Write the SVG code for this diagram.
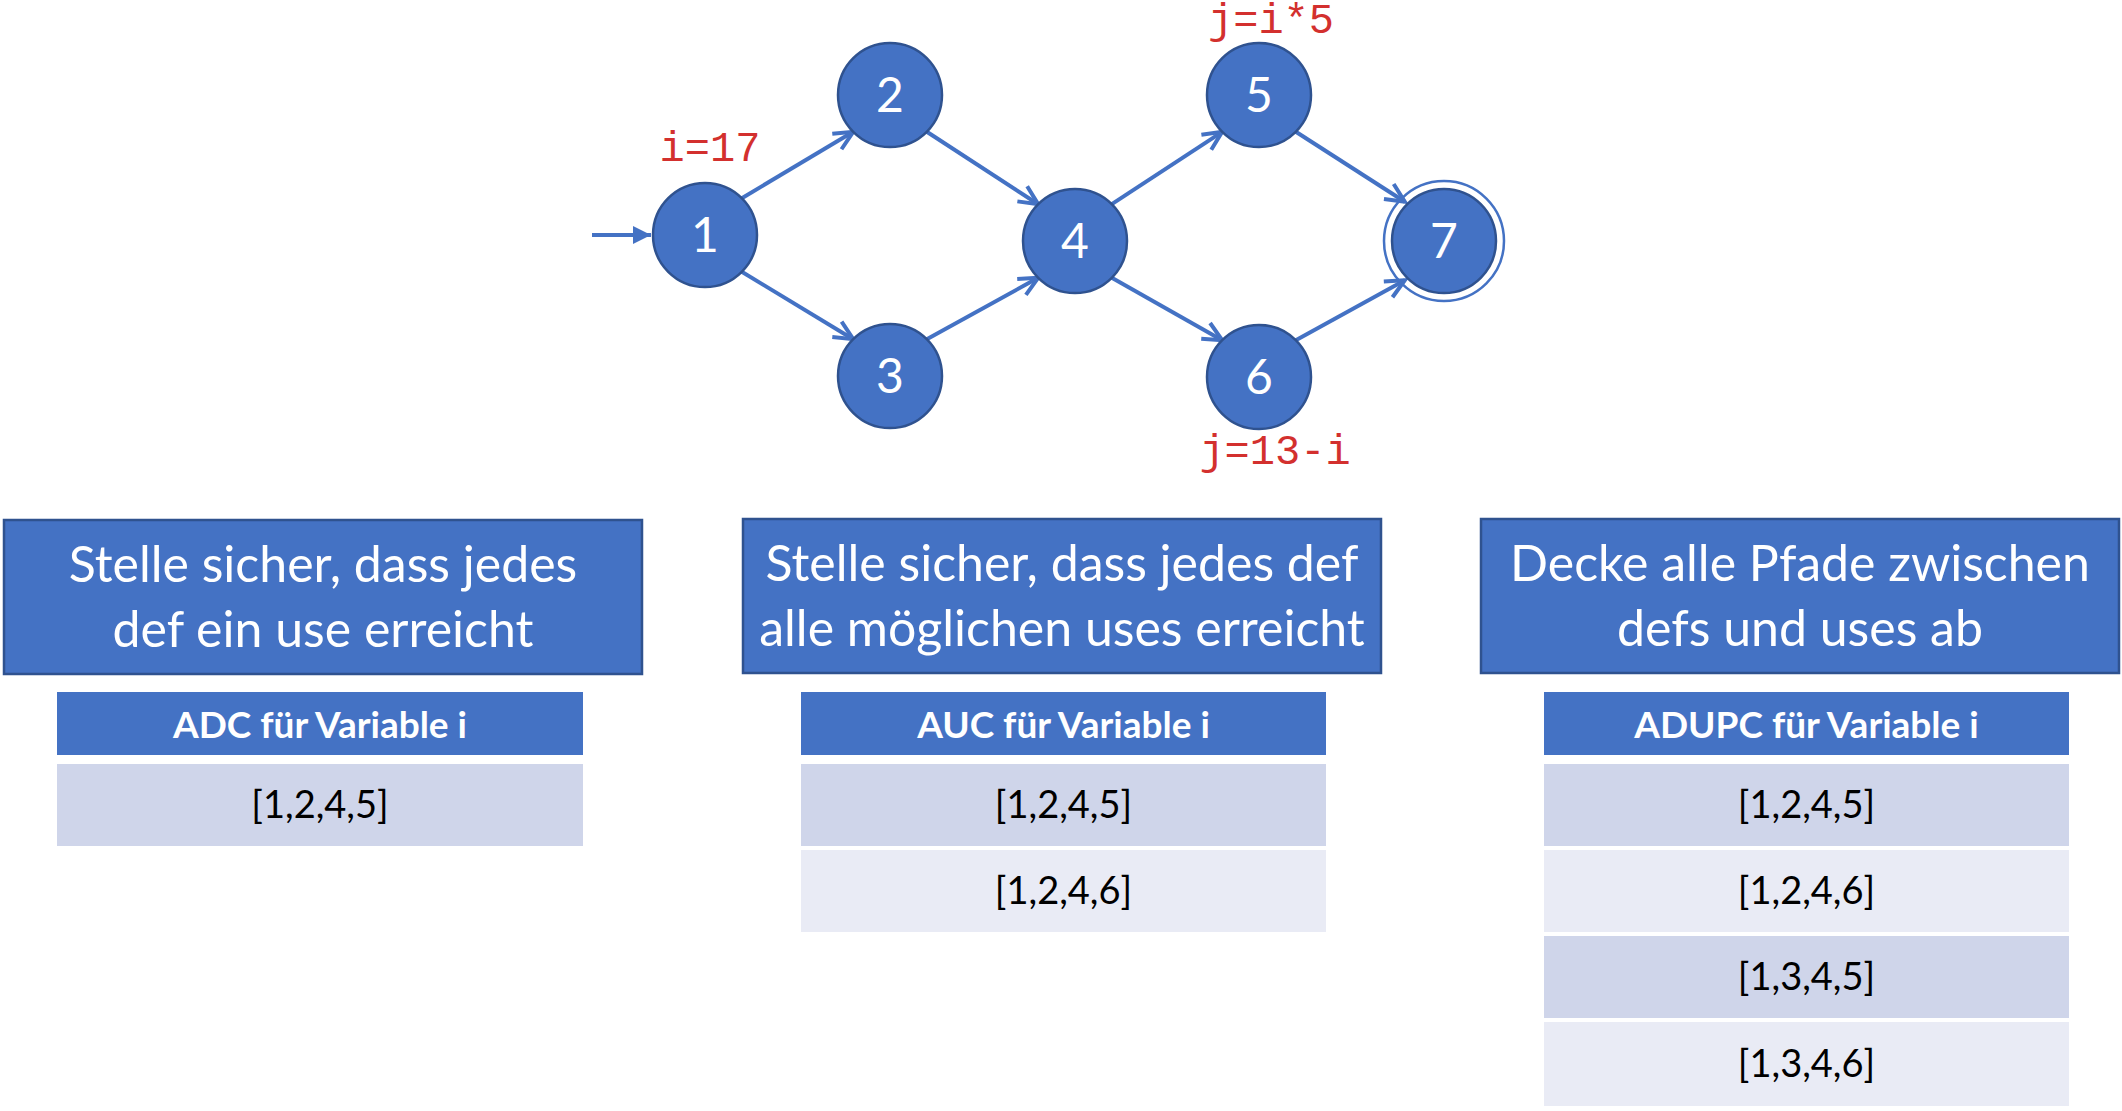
<svg xmlns="http://www.w3.org/2000/svg" width="2122" height="1111" viewBox="0 0 2122 1111">
<style>
.node{fill:#4472C4;stroke:#2F528F;stroke-width:2.5}
.ring{fill:none;stroke:#4472C4;stroke-width:2.5}
.nlab{font-family:Lato,"Open Sans",sans-serif;font-size:48px;fill:#fff;text-anchor:middle}
.code{font-family:"Liberation Mono","Courier New",monospace;font-size:42px;fill:#D3302E;text-anchor:middle}
.edge{stroke:#4472C4;stroke-width:4;fill:none}
.box{fill:#4472C4;stroke:#2F528F;stroke-width:2.5}
.btxt{font-family:Lato,"Open Sans",sans-serif;font-size:50px;fill:#fff;text-anchor:middle}
.hdr{fill:#4472C4}
.htxt{font-family:Lato,"Open Sans",sans-serif;font-weight:bold;font-size:37px;fill:#fff;text-anchor:middle}
.r1{fill:#CFD5EA}
.r2{fill:#E9EBF5}
.rtxt{font-family:Lato,"Open Sans",sans-serif;font-size:38px;fill:#000;text-anchor:middle}
</style>
<defs>
<marker id="arr" viewBox="-24 -12 28 24" refX="0" refY="0" markerWidth="28" markerHeight="24" markerUnits="userSpaceOnUse" orient="auto">
<path d="M-19,-9 L0,0 L-19,9" fill="none" stroke="#4472C4" stroke-width="4" stroke-linejoin="miter"/>
</marker>
<marker id="tri" viewBox="-20 -10 22 20" refX="0" refY="0" markerWidth="22" markerHeight="20" markerUnits="userSpaceOnUse" orient="auto">
<path d="M-18,-9 L0,0 L-18,9 z" fill="#4472C4"/>
</marker>
</defs>
<g id="connectors">
<line class="edge" x1="592" y1="235" x2="651" y2="235" marker-end="url(#tri)"/>
<line class="edge" x1="741.8" y1="198.2" x2="853.2" y2="131.8" marker-end="url(#arr)"/>
<line class="edge" x1="741.8" y1="271.8" x2="853.2" y2="339.2" marker-end="url(#arr)"/>
<line class="edge" x1="926.8" y1="131.8" x2="1038.2" y2="204.2" marker-end="url(#arr)"/>
<line class="edge" x1="926.8" y1="339.2" x2="1038.2" y2="277.8" marker-end="url(#arr)"/>
<line class="edge" x1="1111.8" y1="204.2" x2="1222.2" y2="131.8" marker-end="url(#arr)"/>
<line class="edge" x1="1111.8" y1="277.8" x2="1222.2" y2="340.2" marker-end="url(#arr)"/>
<line class="edge" x1="1295.8" y1="131.8" x2="1404.8" y2="201.8" marker-end="url(#arr)"/>
<line class="edge" x1="1295.8" y1="340.2" x2="1404.8" y2="280.2" marker-end="url(#arr)"/>
</g>
<g id="node1"><circle class="node" cx="705" cy="235" r="52"/><text class="nlab" x="705" y="252">1</text></g>
<g id="node2"><circle class="node" cx="890" cy="95" r="52"/><text class="nlab" x="890" y="112">2</text></g>
<g id="node3"><circle class="node" cx="890" cy="376" r="52"/><text class="nlab" x="890" y="393">3</text></g>
<g id="node4"><circle class="node" cx="1075" cy="241" r="52"/><text class="nlab" x="1075" y="258">4</text></g>
<g id="node5"><circle class="node" cx="1259" cy="95" r="52"/><text class="nlab" x="1259" y="112">5</text></g>
<g id="node6"><circle class="node" cx="1259" cy="377" r="52"/><text class="nlab" x="1259" y="394">6</text></g>
<g id="node7"><circle class="ring" cx="1444" cy="241" r="60"/><circle class="node" cx="1444" cy="241" r="52"/><text class="nlab" x="1444" y="258">7</text></g>
<g id="labels">
<text class="code" x="710" y="161">i=17</text>
<text class="code" x="1271" y="33">j=i*5</text>
<text class="code" x="1275" y="464">j=13-i</text>
</g>
<g id="box1">
<rect class="box" x="4" y="520" width="638" height="154"/>
<text class="btxt" x="323" y="582">Stelle sicher, dass jedes</text>
<text class="btxt" x="323" y="647">def ein use erreicht</text>
</g>
<g id="box2">
<rect class="box" x="743" y="519" width="638" height="154"/>
<text class="btxt" x="1062" y="581">Stelle sicher, dass jedes def</text>
<text class="btxt" x="1062" y="646">alle möglichen uses erreicht</text>
</g>
<g id="box3">
<rect class="box" x="1481" y="519" width="638" height="154"/>
<text class="btxt" x="1800" y="581">Decke alle Pfade zwischen</text>
<text class="btxt" x="1800" y="646">defs und uses ab</text>
</g>
<g id="table1">
<rect class="hdr" x="57" y="692" width="526" height="63"/>
<text class="htxt" x="320" y="738">ADC für Variable i</text>
<rect class="r1" x="57" y="764" width="526" height="82"/>
<text class="rtxt" x="320" y="818">[1,2,4,5]</text>
</g>
<g id="table2">
<rect class="hdr" x="801" y="692" width="525" height="63"/>
<text class="htxt" x="1063.5" y="738">AUC für Variable i</text>
<rect class="r1" x="801" y="764" width="525" height="82"/>
<text class="rtxt" x="1063.5" y="818">[1,2,4,5]</text>
<rect class="r2" x="801" y="850" width="525" height="82"/>
<text class="rtxt" x="1063.5" y="904">[1,2,4,6]</text>
</g>
<g id="table3">
<rect class="hdr" x="1544" y="692" width="525" height="63"/>
<text class="htxt" x="1806.5" y="738">ADUPC für Variable i</text>
<rect class="r1" x="1544" y="764" width="525" height="82"/>
<text class="rtxt" x="1806.5" y="818">[1,2,4,5]</text>
<rect class="r2" x="1544" y="850" width="525" height="82"/>
<text class="rtxt" x="1806.5" y="904">[1,2,4,6]</text>
<rect class="r1" x="1544" y="936" width="525" height="82"/>
<text class="rtxt" x="1806.5" y="990">[1,3,4,5]</text>
<rect class="r2" x="1544" y="1022" width="525" height="84"/>
<text class="rtxt" x="1806.5" y="1077">[1,3,4,6]</text>
</g>
</svg>
